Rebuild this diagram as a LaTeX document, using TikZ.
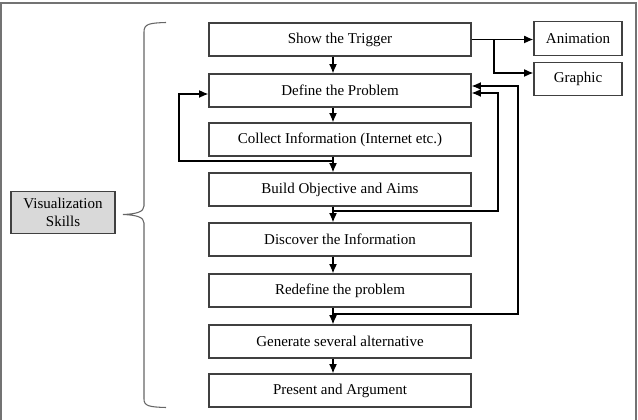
\documentclass[tikz,border=0pt]{standalone}
\usepackage{fontspec}
\setmainfont{Liberation Serif}
\usetikzlibrary{arrows.meta,calc}
\begin{document}
\begin{tikzpicture}[x=0.75pt,y=-0.75pt,
  font=\fontsize{11.25}{13}\selectfont,
  stepbox/.style={draw=black!75,line width=0.9pt,minimum width=196.5pt,minimum height=24.75pt,inner sep=0pt,align=center},
  sidebox/.style={draw=black!75,line width=0.9pt,minimum width=66pt,minimum height=25pt,inner sep=0pt,align=center},
  visbox/.style={draw=black!75,line width=0.9pt,fill=black!15,minimum width=78pt,minimum height=32pt,inner sep=0pt,align=center,font=\fontsize{11.25}{13}\selectfont},
  conn/.style={line width=1pt,-{Latex[length=7pt,width=6pt]}},
  frame/.style={draw=black!55,line width=1.3pt},
  bracestyle/.style={draw=black!60,line width=0.8pt}
]
\useasboundingbox (0,0) rectangle (638,420);
\draw[frame] (1,425) -- (1,3) -- (636,3) -- (636,425);

\node[stepbox] (b1) at (340,39.5) {Show the Trigger};
\node[stepbox] (b2) at (340,90.5) {Define the Problem};
\node[stepbox] (b3) at (340,139.5) {Collect Information (Internet etc.)};
\node[stepbox] (b4) at (340,189.5) {Build Objective and Aims};
\node[stepbox] (b5) at (340,239.5) {Discover the Information};
\node[stepbox] (b6) at (340,290.5) {Redefine the problem};
\node[stepbox] (b7) at (340,341.5) {Generate several alternative};
\node[stepbox] (b8) at (340,390.5) {Present and Argument};

\node[sidebox] (anim) at (578,38.5) {Animation};
\node[sidebox] (graph) at (578,79) {Graphic};

\node[visbox] (vis) at (63,212.5) {Visualization\\Skills};

\coordinate (col) at (333,0);
\coordinate (j34) at (333,161);
\coordinate (j45) at (333,211);
\coordinate (j67) at (333,314);
\coordinate (br) at (494,39.5);
\coordinate (lx) at (179,94);
\coordinate (rin) at (498,93);
\coordinate (rout) at (518,86);

% vertical arrows
\draw[conn] (b1.south -| col) -- (b2.north -| col);
\draw[conn] (b2.south -| col) -- (b3.north -| col);
\draw[conn] (b3.south -| col) -- (b4.north -| col);
\draw[conn] (b4.south -| col) -- (b5.north -| col);
\draw[conn] (b5.south -| col) -- (b6.north -| col);
\draw[conn] (b6.south -| col) -- (b7.north -| col);
\draw[conn] (b7.south -| col) -- (b8.north -| col);

% trigger to side boxes
\draw[conn] (b1.east) -- (b1.east -| anim.west);
\draw[conn] (br) |- ([yshift=4.5pt]graph.west);

% feedback loops
\draw[conn] (j34) -| (lx) -- (lx -| b2.west);
\draw[conn] (j45) -| (rin) -- (rin -| b2.east);
\draw[conn] (j67) -| (rout) -- (rout -| b2.east);

% brace
\draw[bracestyle] (166,22.5) .. controls (149,23) and (144,24) .. (144,32)
  -- (144,206) .. controls (144,212) and (136,214) .. (123,214.5)
  .. controls (136,215) and (144,217) .. (144,223)
  -- (144,399) .. controls (144,406) and (149,407) .. (166,407.5);
\end{tikzpicture}
\end{document}
